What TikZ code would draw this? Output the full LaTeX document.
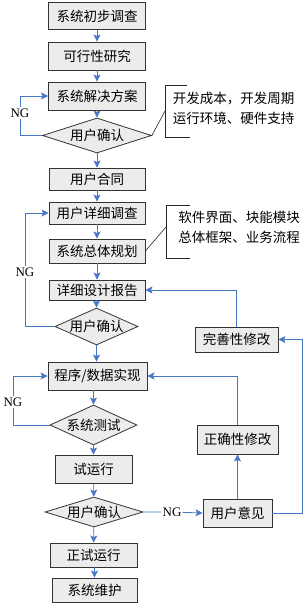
\documentclass[tikz,border=0pt]{standalone}
\usepackage{fontspec}
\setmainfont{Liberation Serif}
\newfontfamily\cjk{Noto Sans CJK SC}
\usetikzlibrary{arrows.meta, shapes.geometric}

\definecolor{flowblue}{RGB}{70,118,196}
\definecolor{boxgray}{RGB}{236,236,236}

\begin{document}
\begin{tikzpicture}[
    x=1pt, y=-1pt,
    font=\fontsize{13.5}{20}\selectfont\cjk,
    >={Stealth[length=7pt, width=7pt, inset=1.5pt]},
    box/.style 2 args={draw=black!80, line width=0.9pt, fill=boxgray, inner sep=0pt,
                       minimum width=#1pt, minimum height=#2pt},
    choice/.style 2 args={diamond, draw=black!80, line width=0.8pt, fill=boxgray,
                          inner sep=0pt, aspect=1, minimum width=#1pt, minimum height=#2pt},
    note/.style={align=left, inner sep=0pt},
    ng/.style={fill=white, inner sep=1pt, font=\fontsize{13}{15}\selectfont\rmfamily},
    link/.style={draw=flowblue, line width=0.8pt},
    arr/.style={link, ->},
    bracket/.style={draw=black!85, line width=0.6pt},
]
\useasboundingbox (0,0) rectangle (306,604);

% ── main chain (left column) ─────────────────────────────────────────────────
\node[box={97}{27}]  (s1) at (97,16)    {系统初步调查};
\node[box={97}{28}]  (s2) at (97,56)    {可行性研究};
\node[box={97}{28}]  (s3) at (97,96)    {系统解决方案};
\node[choice={109}{35}] (d1) at (97,135.5) {\makebox[0pt]{用户确认}};
\node[box={96}{22}]  (s4) at (97,179)   {用户合同};
\node[box={96}{22}]  (s5) at (97,213)   {用户详细调查};
\node[box={96}{24}]  (s6) at (97,251)   {系统总体规划};
\node[box={96}{20}]  (s7) at (97,290)   {详细设计报告};
\node[choice={83}{37}]  (d2) at (96.5,326.5) {\makebox[0pt]{用户确认}};
\node[box={99}{28}]  (s8) at (97.5,376) {程序/数据实现};
\node[choice={87}{40}]  (d3) at (93.5,425) {\makebox[0pt]{系统测试}};
\node[box={77}{28}]  (s9) at (93.5,469) {试运行};
\node[choice={98}{30}]  (d4) at (94,512) {\makebox[0pt]{用户确认}};
\node[box={87}{24}]  (s10) at (93.5,555) {正试运行};
\node[box={85}{24}]  (s11) at (94.5,590) {系统维护};

% ── feedback column (right) ──────────────────────────────────────────────────
\node[box={83}{25}]  (r1) at (236.5,339.5) {完善性修改};
\node[box={81}{29}]  (r2) at (237.5,439.5) {正确性修改};
\node[box={69}{28}]  (r3) at (237.5,513)   {用户意见};

% ── side notes with brackets ─────────────────────────────────────────────────
\node[note] (t1) at (233.5,108) {开发成本，开发周期\\运行环境、硬件支持};
\coordinate (b1) at (165,111);
\draw[bracket] (187,85) -| (165,137) -- (190,137);
\draw[bracket] (d1.east) -- (b1);

\node[note] (t2) at (239,227.5) {软件界面、块能模块\\总体框架、业务流程};
\coordinate (b2) at (166,227);
\draw[bracket] (190,205) -| (166,258) -- (190,258);
\draw[bracket] (s6.east) -- (b2);

% ── NG labels ────────────────────────────────────────────────────────────────
\node[ng] (ng1) at (20,113)  {NG};
\node[ng] (ng2) at (25,272)  {NG};
\node[ng] (ng3) at (13,402)  {NG};
\node[ng] (ng4) at (172,512) {NG};

% ── edges ────────────────────────────────────────────────────────────────────
\draw[arr] (s1) -- (s2);
\draw[arr] (s2) -- (s3);
\draw[arr] (s3) -- (d1);
\draw[arr] (d1) -- (s4);
\draw[arr] (s4) -- (s5);
\draw[arr] (s5) -- (s6);
\draw[arr] (s6) -- (s7);
\draw[arr] (s7.south -| d2) -- (d2);
\draw[arr] (d2) -- (s8.north -| d2);
\draw[arr] (s8.south -| d3) -- (d3);
\draw[arr] (d3) -- (s9);
\draw[arr] (s9) -- (d4);
\draw[arr] (d4) -- (s10);
\draw[arr] (s10.south -| s11) -- (s11);

\draw[arr] (d1.west) -| (ng1) |- (s3.west);
\draw[arr] (d2.west) -| (ng2) |- (s5.west);
\draw[arr] (d3.west) -| (ng3) |- (s8.west);

\draw[arr] (d4.east) -- (ng4) -- (r3.west);
\draw[arr] (r3) -- (r2);
\draw[arr] (r2.north) |- (s8.east);
\draw[arr] (r3.east) -- ++(30,0) |- (r1.east);
\draw[arr] (r1.north) |- (s7.east);

\end{tikzpicture}
\end{document}
